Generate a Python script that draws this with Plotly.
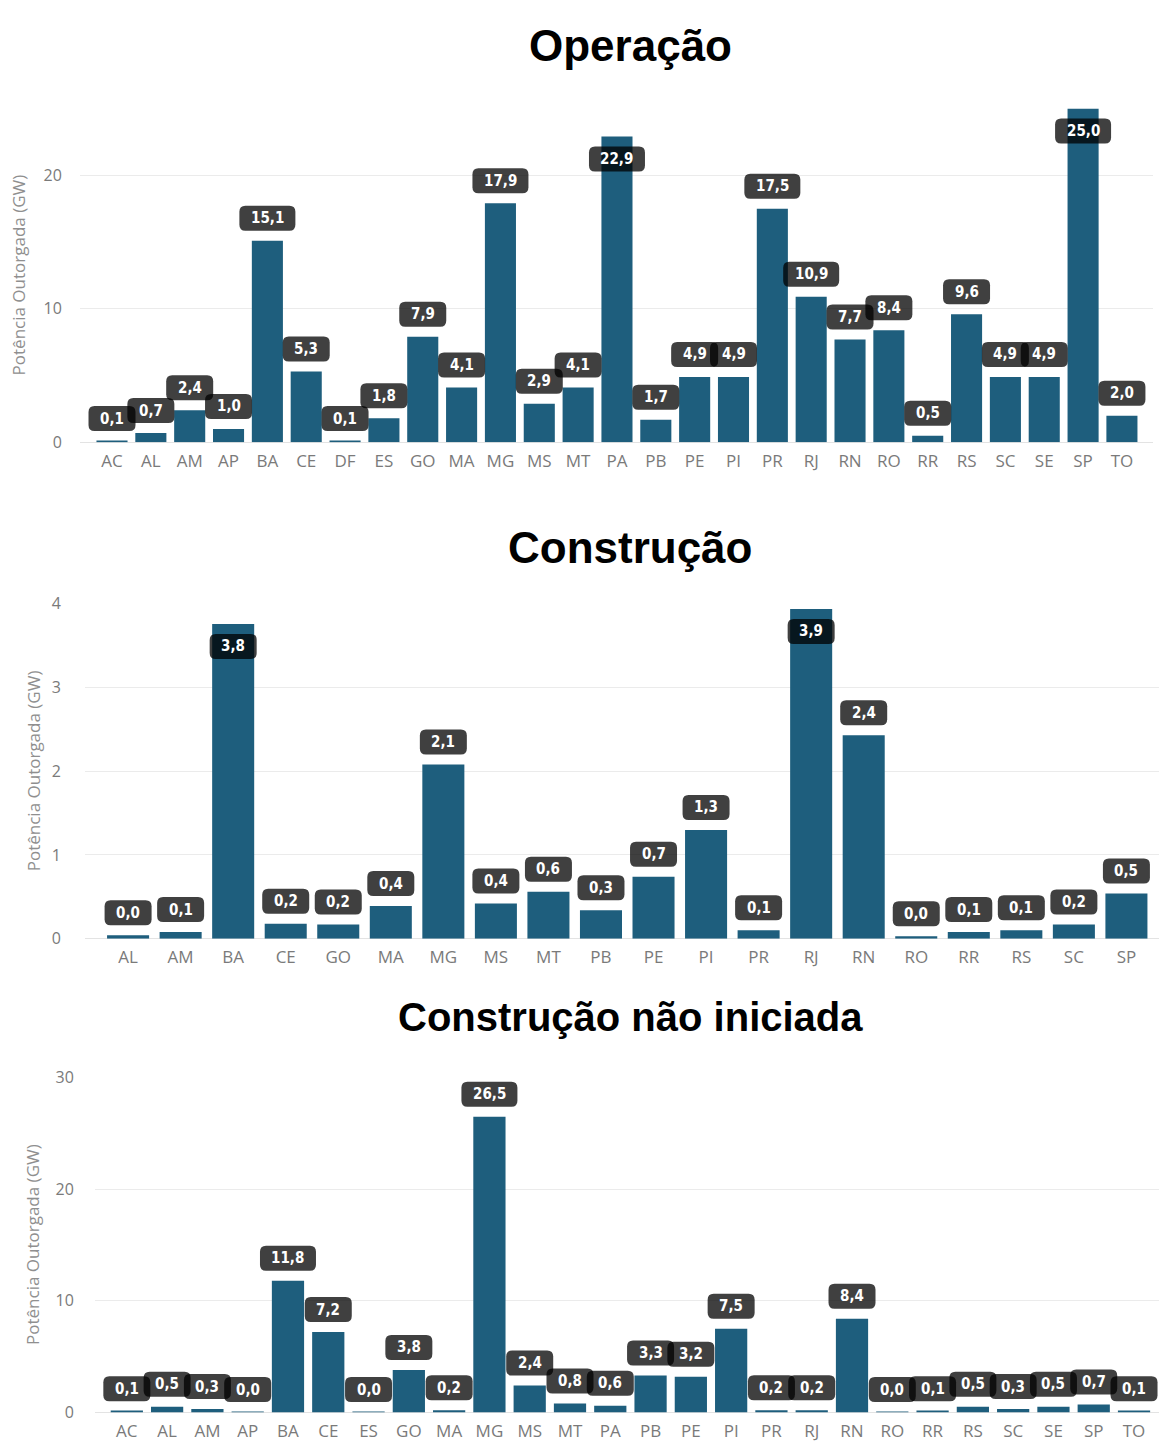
import plotly.graph_objects as go

# ---- data (GW) ----
ufs_operacao = ["AC", "AL", "AM", "AP", "BA", "CE", "DF", "ES", "GO", "MA", "MG", "MS", "MT", "PA",
                "PB", "PE", "PI", "PR", "RJ", "RN", "RO", "RR", "RS", "SC", "SE", "SP", "TO"]
gw_operacao = [0.1, 0.7, 2.4, 1.0, 15.1, 5.3, 0.1, 1.8, 7.9, 4.1, 17.9, 2.9, 4.1, 22.9,
               1.7, 4.9, 4.9, 17.5, 10.9, 7.7, 8.4, 0.5, 9.6, 4.9, 4.9, 25.0, 2.0]

ufs_construcao = ["AL", "AM", "BA", "CE", "GO", "MA", "MG", "MS", "MT", "PB",
                  "PE", "PI", "PR", "RJ", "RN", "RO", "RR", "RS", "SC", "SP"]
gw_construcao = [0.04, 0.08, 3.76, 0.18, 0.17, 0.39, 2.08, 0.42, 0.56, 0.34,
                 0.74, 1.30, 0.10, 3.94, 2.43, 0.03, 0.08, 0.10, 0.17, 0.54]

ufs_nao_iniciada = ["AC", "AL", "AM", "AP", "BA", "CE", "ES", "GO", "MA", "MG", "MS", "MT", "PA",
                    "PB", "PE", "PI", "PR", "RJ", "RN", "RO", "RR", "RS", "SC", "SE", "SP", "TO"]
gw_nao_iniciada = [0.1, 0.5, 0.3, 0.03, 11.8, 7.2, 0.03, 3.8, 0.2, 26.5, 2.4, 0.8, 0.6,
                   3.3, 3.2, 7.5, 0.2, 0.2, 8.4, 0.03, 0.1, 0.5, 0.3, 0.5, 0.7, 0.1]

titulos = ["Operação", "Construção", "Construção não iniciada"]
eixo_y_titulo = "Potência Outorgada (GW)"

# ---- page geometry ----
W, H = 1159, 1450
BAR_COLOR = "#1e5e7d"
GRID = "#ebebeb"
TICK_GRAY = "#7a7a7a"
LABEL_BG = "rgba(0,0,0,0.75)"

# per-panel layout: plot box in pixels (left, right, top, bottom), y range, y dtick,
# category range padding, title centre y and size, y-title x
panels = [
    dict(cats=ufs_operacao, vals=gw_operacao, px=(80, 1153, 99, 438), yr=(0, 25), dt=10,
         xr=(-0.824, 26.8), title_y=35, title_size=44, ytitle_x=18, ylabel_gap=14),
    dict(cats=ufs_construcao, vals=gw_construcao, px=(85, 1159, 602, 942), yr=(0, 4), dt=1,
         xr=(-0.82, 19.62), title_y=545, title_size=44, ytitle_x=33, ylabel_gap=20),
    dict(cats=ufs_nao_iniciada, vals=gw_nao_iniciada, px=(95, 1159, 1083, 1423), yr=(0, 30), dt=10,
         xr=(-0.79, 25.62), title_y=1022, title_size=40, ytitle_x=33, ylabel_gap=17),
]

fig = go.Figure()
shapes, annotations = [], []
layout_axes = {}

BOX_H, BOX_GAP = 25, 10


def rounded_box(w, h, r, y_base):
    # rounded rectangle path in pixel units, centred horizontally on the anchor
    x0, x1 = -w / 2, w / 2
    y0, y1 = y_base, y_base + h
    return (f"M {x0 + r},{y0} L {x1 - r},{y0} Q {x1},{y0} {x1},{y0 + r} "
            f"L {x1},{y1 - r} Q {x1},{y1} {x1 - r},{y1} L {x0 + r},{y1} "
            f"Q {x0},{y1} {x0},{y1 - r} L {x0},{y0 + r} Q {x0},{y0} {x0 + r},{y0} Z")


for k, p in enumerate(panels, start=1):
    xa = "x" if k == 1 else f"x{k}"
    ya = "y" if k == 1 else f"y{k}"
    left, right, top, bottom = p["px"]

    fig.add_trace(go.Bar(
        x=p["cats"], y=p["vals"], xaxis=xa, yaxis=ya,
        marker=dict(color=BAR_COLOR, line=dict(width=0)), width=0.8,
        showlegend=False, hoverinfo="x+y",
    ))

    layout_axes["xaxis" if k == 1 else f"xaxis{k}"] = dict(
        domain=[left / W, right / W], anchor=ya, type="category",
        range=list(p["xr"]), showgrid=False, zeroline=False, showline=False,
        ticks="outside", ticklen=3, tickcolor="rgba(0,0,0,0)",
        tickfont=dict(family="Open Sans, Segoe UI, sans-serif", size=17, color=TICK_GRAY),
        fixedrange=True,
    )
    layout_axes["yaxis" if k == 1 else f"yaxis{k}"] = dict(
        domain=[1 - bottom / H, 1 - top / H], anchor=xa,
        range=list(p["yr"]), dtick=p["dt"], showgrid=True, gridcolor=GRID, gridwidth=1,
        zeroline=True, zerolinecolor="#e3e3e3", zerolinewidth=1, showline=False,
        ticks="outside", ticklen=p["ylabel_gap"], tickcolor="rgba(0,0,0,0)",
        tickfont=dict(family="Open Sans, Segoe UI, sans-serif", size=16, color=TICK_GRAY),
        fixedrange=True,
    )

    # data labels: above the bar, or just inside its top when there is no headroom
    px_per_unit = (bottom - top) / (p["yr"][1] - p["yr"][0])
    for cat, v in zip(p["cats"], p["vals"]):
        txt = f"{v:.1f}".replace(".", ",")
        w = 20 + 9 * len(txt)
        headroom = (p["yr"][1] - v) * px_per_unit
        base = BOX_GAP if headroom >= BOX_GAP + BOX_H + 1 else -(BOX_GAP + BOX_H)
        shapes.append(dict(
            type="path", xref=xa, yref=ya, xsizemode="pixel", ysizemode="pixel",
            xanchor=cat, yanchor=v, path=rounded_box(w, BOX_H, 6, base),
            fillcolor=LABEL_BG, line=dict(width=0), layer="above",
        ))
        annotations.append(dict(
            x=cat, y=v, xref=xa, yref=ya, text=f"<b>{txt}</b>", showarrow=False,
            yshift=base + BOX_H / 2, xanchor="center", yanchor="middle",
            font=dict(family="Liberation Sans Narrow, DejaVu Sans Condensed, Roboto, sans-serif",
                      size=15, color="white"),
        ))

    # panel title
    annotations.append(dict(
        x=630 / W, y=1 - p["title_y"] / H, xref="paper", yref="paper",
        text=f"<b>{titulos[k - 1]}</b>", showarrow=False, xanchor="center", yanchor="middle",
        font=dict(family="Liberation Sans, Arial, sans-serif", size=p["title_size"], color="#000000"),
    ))
    # y-axis title
    annotations.append(dict(
        x=p["ytitle_x"] / W, y=1 - (top + bottom) / 2 / H, xref="paper", yref="paper",
        text=eixo_y_titulo, textangle=-90, showarrow=False, xanchor="center", yanchor="middle",
        font=dict(family="Open Sans, Segoe UI, sans-serif", size=17, color="#8f8f8f"),
    ))

fig.update_layout(
    width=W, height=H, margin=dict(l=0, r=0, t=0, b=0),
    paper_bgcolor="white", plot_bgcolor="white",
    bargap=0.2, shapes=shapes, annotations=annotations, **layout_axes,
)

# page body without default margins so the figure sits flush in the window
fig.write_html("out.html", config={"displayModeBar": False},
               post_script="document.body.style.margin='0px';")
